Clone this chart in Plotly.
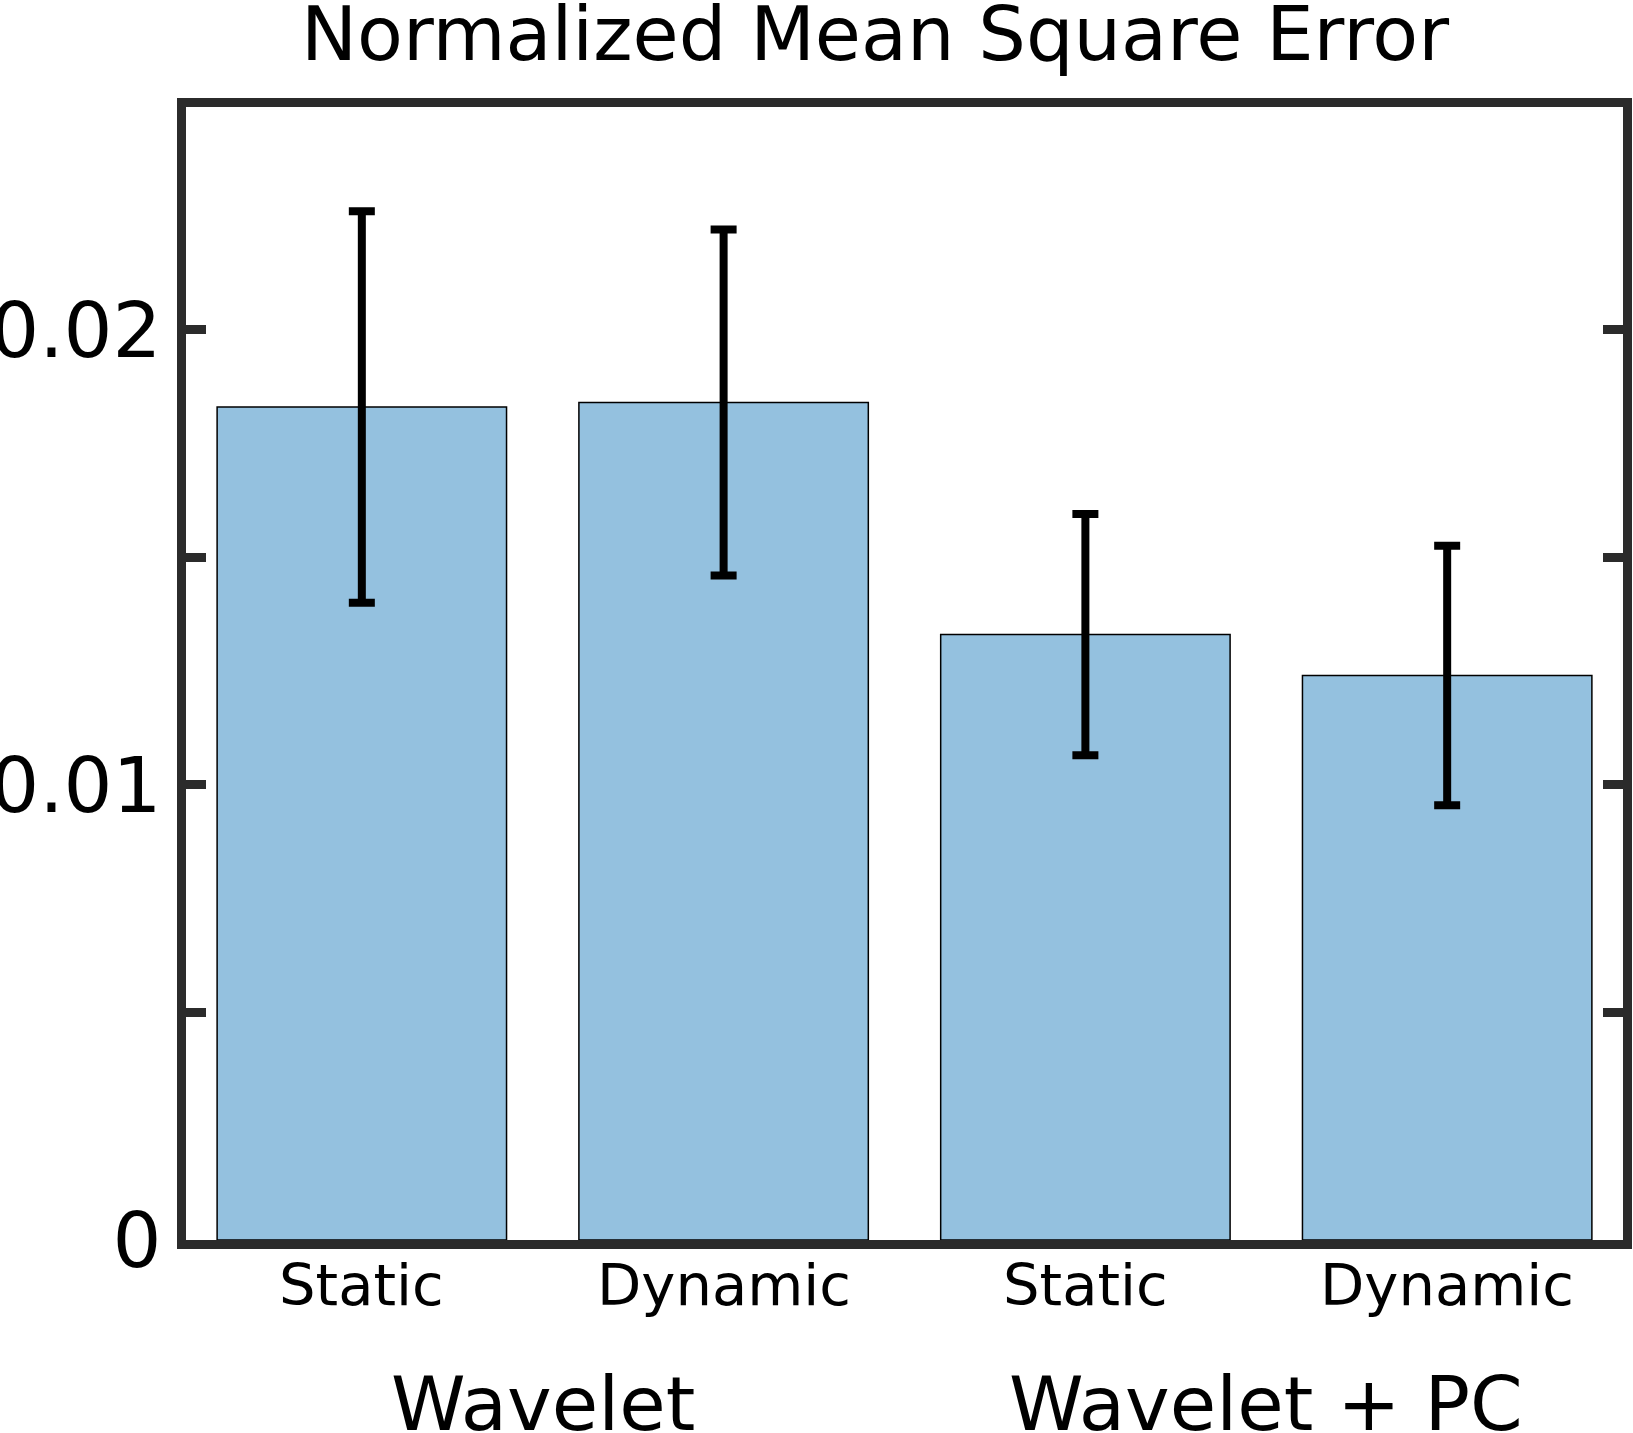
import plotly.graph_objects as go

categories = ["Static", "Dynamic", "Static", "Dynamic"]
groups = ["Wavelet", "Wavelet", "Wavelet + PC", "Wavelet + PC"]
nmse_mean = [0.0183, 0.0184, 0.0133, 0.0124]
nmse_err = [0.0043, 0.0038, 0.00265, 0.00285]
y_tick_vals = [0, 0.005, 0.01, 0.015, 0.02]
y_tick_text = ["0", "", "0.01", "", "0.02"]

FONT = "DejaVu Sans"
FRAME = "#2b2b2b"

x_pos = list(range(len(categories)))

fig = go.Figure()
fig.add_trace(go.Bar(
    x=x_pos, y=nmse_mean, width=0.8,
    marker=dict(color="#94c1df", line=dict(color="black", width=1.5)),
    error_y=dict(type="data", array=nmse_err, visible=True,
                 color="black", thickness=8, width=13),
    showlegend=False,
))

# category labels under each bar
for xp, c in zip(x_pos, categories):
    fig.add_annotation(x=xp, xref="x", y=0, yref="paper", yanchor="top",
                       yshift=-10, text=c, showarrow=False,
                       font=dict(family=FONT, size=57.6, color="black"))

# group labels
seen = []
for g in groups:
    if g not in seen:
        seen.append(g)
for g in seen:
    idx = [i for i, gg in enumerate(groups) if gg == g]
    xc = sum(x_pos[i] for i in idx) / len(idx)
    fig.add_annotation(x=xc, xref="x", y=0, yref="paper", yanchor="top",
                       yshift=-118, text=g, showarrow=False,
                       font=dict(family=FONT, size=75.5, color="black"))

fig.add_annotation(x=0.4795, xref="paper", y=1, yref="paper", yanchor="bottom",
                   yshift=27, text="Normalized Mean Square Error", showarrow=False,
                   font=dict(family=FONT, size=75, color="black"))

fig.update_layout(
    width=1633, height=1433,
    margin=dict(l=186, r=10, t=107, b=193),
    paper_bgcolor="white", plot_bgcolor="white",
    font=dict(family=FONT, color="black"),
    xaxis=dict(range=[-0.486, 3.486], tickvals=x_pos, showticklabels=False,
               showline=True, linecolor=FRAME, linewidth=9, mirror=True,
               ticks="", showgrid=False, zeroline=False, automargin=False),
    yaxis=dict(range=[0, 0.02489], tickvals=y_tick_vals, ticktext=y_tick_text,
               showline=True, linecolor=FRAME, linewidth=9, mirror="ticks",
               ticks="inside", ticklen=20, tickwidth=9, tickcolor=FRAME,
               showgrid=False, zeroline=False, automargin=False,
               tickfont=dict(family=FONT, size=77, color="black")),
)

fig.write_html("out.html",
               config={"displayModeBar": False},
               post_script="document.body.style.margin='0';document.body.style.overflow='hidden';")
